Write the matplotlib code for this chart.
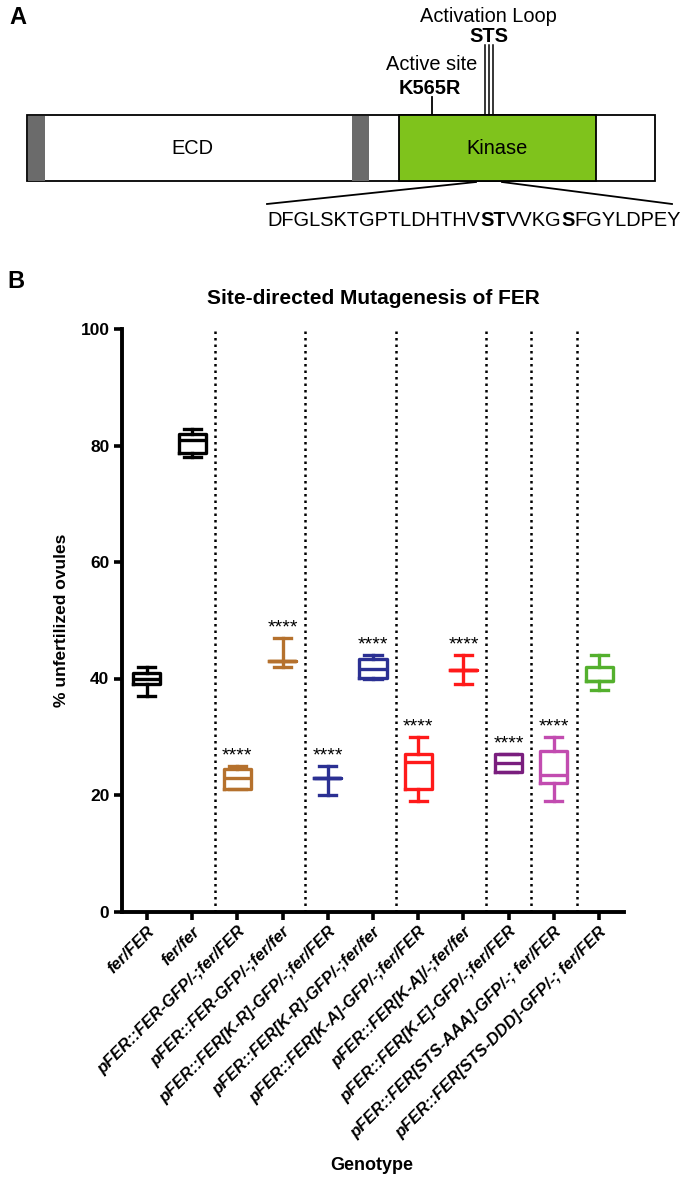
import matplotlib
matplotlib.use("Agg")
import matplotlib.pyplot as plt
from matplotlib.patches import Rectangle

plt.rcParams['font.family'] = ['Liberation Sans', 'DejaVu Sans']

# ---------------- data ----------------
genotypes = [
    "fer/FER",
    "fer/fer",
    "pFER::FER-GFP/-;fer/FER",
    "pFER::FER-GFP/-;fer/fer",
    "pFER::FER[K-R]-GFP/-;fer/FER",
    "pFER::FER[K-R]-GFP/-;fer/fer",
    "pFER::FER[K-A]-GFP/-;fer/FER",
    "pFER::FER[K-A]/-;fer/fer",
    "pFER::FER[K-E]-GFP/-;fer/FER",
    "pFER::FER[STS-AAA]-GFP/-; fer/FER",
    "pFER::FER[STS-DDD]-GFP/-; fer/FER",
]
whisker_low = [37, 78, 21, 42, 20, 40, 19, 39, 24, 19, 38]
q1_values = [39, 78.7, 21, 43, 23, 40.1, 21, 41.5, 24, 22, 39.6]
median_values = [40, 81, 23, 43, 23, 41.6, 25.7, 41.5, 25.5, 23.4, 39.6]
q3_values = [41, 82, 24.4, 43, 23, 43.3, 27, 41.5, 27, 27.6, 42]
whisker_high = [42, 82.8, 25, 47, 25, 44, 30, 44, 27, 30, 44]
significance = ["", "", "****", "****", "****", "****", "****", "****", "****", "****", ""]
box_colors = ["#000000", "#000000", "#B5712D", "#B5712D", "#2B3093", "#2B3093",
              "#FF1A1A", "#FF1A1A", "#7A1E7E", "#C24CB0", "#54B02E"]
divider_after = [1, 3, 5, 7, 8, 9]
y_ticks = [0, 20, 40, 60, 80, 100]

W, H = 681, 1178
fig = plt.figure(figsize=(W / 100, H / 100), dpi=100)

# ---------------- panel A: domain schematic ----------------
axA = fig.add_axes([0, 1 - 240 / H, 1, 240 / H])
axA.set_xlim(0, W)
axA.set_ylim(240, 0)
axA.axis("off")

fsA = 14.4
axA.add_patch(Rectangle((27, 115), 628, 66, facecolor="white", edgecolor="black", lw=1.3, zorder=1))
axA.add_patch(Rectangle((28, 115.5), 17, 65, facecolor="#6B6B6B", edgecolor="none", zorder=2))
axA.add_patch(Rectangle((352, 115.5), 17, 65, facecolor="#6B6B6B", edgecolor="none", zorder=2))
axA.add_patch(Rectangle((399, 115), 197, 66, facecolor="#7FC31C", edgecolor="black", lw=1.3, zorder=3))
axA.text(192, 148, "ECD", ha="center", va="center", fontsize=fsA)
axA.text(497, 148, "Kinase", ha="center", va="center", fontsize=fsA)

axA.plot([432, 432], [97, 115], color="black", lw=1.3)
axA.text(432, 65, "Active site", ha="center", va="center", fontsize=fsA)
axA.text(430, 88, "K565R", ha="center", va="center", fontsize=fsA, fontweight="bold")
for xs in (485, 489, 493):
    axA.plot([xs, xs], [45, 115], color="black", lw=1.1)
axA.text(489, 36, "STS", ha="center", va="center", fontsize=fsA, fontweight="bold")
axA.text(488, 16, "Activation Loop", ha="center", va="center", fontsize=fsA)

axA.plot([476, 267], [182, 204], color="black", lw=1.3)
axA.plot([502, 672], [182, 204], color="black", lw=1.3)

segments = [("DFGLSKTGPTLDHTHV", "normal"), ("ST", "bold"), ("VVKG", "normal"),
            ("S", "bold"), ("FGYLDPEY", "normal")]
prev = axA.text(267, 230, segments[0][0], ha="left", va="bottom", fontsize=fsA,
                fontweight=segments[0][1])
for seg, wt in segments[1:]:
    prev = axA.annotate(seg, xy=(1, 0), xycoords=prev, ha="left", va="bottom",
                        fontsize=fsA, fontweight=wt)

fig.text(9 / W, 1 - 18 / H, "A", fontsize=17, fontweight="bold", ha="left", va="center")
fig.text(7 / W, 1 - 282 / H, "B", fontsize=17, fontweight="bold", ha="left", va="center")

# ---------------- panel B: box plot ----------------
ax = fig.add_axes([122 / W, 1 - 911.5 / H, (624 - 122) / W, (911.5 - 329) / H])
positions = list(range(len(genotypes)))
stats = []
for i, g in enumerate(genotypes):
    stats.append(dict(label=g, whislo=whisker_low[i], q1=q1_values[i], med=median_values[i],
                      q3=q3_values[i], whishi=whisker_high[i], fliers=[]))

bp = ax.bxp(stats, positions=positions, widths=0.6, capwidths=0.38, showfliers=False,
            patch_artist=False)
lw = 2.4
for i, c in enumerate(box_colors):
    bp["boxes"][i].set(color=c, lw=lw)
    bp["medians"][i].set(color=c, lw=lw)
    for k in (2 * i, 2 * i + 1):
        bp["whiskers"][k].set(color=c, lw=lw)
        bp["caps"][k].set(color=c, lw=lw)

for i, s in enumerate(significance):
    if s:
        ax.text(positions[i], whisker_high[i] + 0.3, s, ha="center", va="bottom", fontsize=14)

for d in divider_after:
    ax.vlines(d + 0.5, 0, 100, colors="black", linestyles=(0, (1, 1.6)), lw=1.8)

ax.set_xlim(-0.55, 10.55)
ax.set_ylim(0, 100)
ax.set_yticks(y_ticks)
ax.set_yticklabels([str(t) for t in y_ticks], fontsize=12.5, fontweight="bold")
ax.set_xticks(positions)
ax.set_xticklabels(genotypes, rotation=45, ha="right", va="top", rotation_mode="anchor",
                   fontsize=12, fontweight="bold", fontstyle="italic")
ax.tick_params(axis="both", width=2.6, length=6, direction="out", pad=3)
for sp in ("top", "right"):
    ax.spines[sp].set_visible(False)
for sp in ("left", "bottom"):
    ax.spines[sp].set_linewidth(2.8)

ax.set_title("Site-directed Mutagenesis of FER", fontsize=15, fontweight="bold", pad=18)
ax.set_ylabel("% unfertilized ovules", fontsize=12.5, fontweight="bold", labelpad=8)
fig.text(372 / W, 1 - 1165 / H, "Genotype", fontsize=13, fontweight="bold", ha="center", va="center")

fig.savefig("out.png", dpi=100)
